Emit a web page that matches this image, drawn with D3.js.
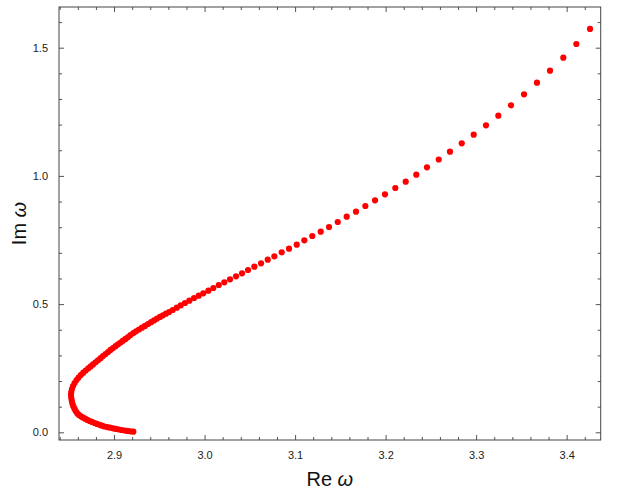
<!DOCTYPE html>
<html>
<head>
<meta charset="utf-8">
<script src="https://cdn.jsdelivr.net/npm/d3@7"></script>
<style>
  body { margin: 0; background: #fff; }
  text { font-family: "Liberation Sans", Arial, Helvetica, sans-serif; }
</style>
</head>
<body>
<svg id="chart"></svg>
<script>
const reOmega = [
  2.9213, 2.9181, 2.9149, 2.9117, 2.9085, 2.9055, 2.9022, 2.8989, 2.8956, 2.8925,
  2.8895, 2.8867, 2.8840, 2.8812, 2.8785, 2.8757, 2.8730, 2.8705, 2.8680, 2.8654,
  2.8630, 2.8609, 2.8591, 2.8576, 2.8563, 2.8550, 2.8540, 2.8533, 2.8527, 2.8525,
  2.8527, 2.8535, 2.8547, 2.8564, 2.8586, 2.8608, 2.8633, 2.8660, 2.8687, 2.8715,
  2.8742, 2.8768, 2.8796, 2.8823, 2.8851, 2.8878, 2.8906, 2.8934, 2.8961, 2.8989,
  2.9017, 2.9044, 2.9072, 2.9099, 2.9127, 2.9155, 2.9182, 2.9213, 2.9243, 2.9276,
  2.9309, 2.9342, 2.9376, 2.9409, 2.9442, 2.9475, 2.9508, 2.9541, 2.9574, 2.9608,
  2.9648, 2.9693, 2.9737, 2.9784, 2.9832, 2.9884, 2.9936, 2.9986, 3.0042, 3.0097,
  3.0157, 3.0218, 3.0281, 3.0348, 3.0414, 3.0480, 3.0550, 3.0624, 3.0698, 3.0771,
  3.0852, 3.0933, 3.1018, 3.1102, 3.1190, 3.1283, 3.1375, 3.1471, 3.1570, 3.1673,
  3.1776, 3.1883, 3.1993, 3.2107, 3.2222, 3.2339, 3.2457, 3.2587, 3.2711, 3.2841,
  3.2973, 3.3109, 3.3245, 3.3385, 3.3529, 3.3672, 3.3816, 3.3963, 3.4107, 3.4258
];
const imOmega = [
  0.0023, 0.0039, 0.0055, 0.0070, 0.0090, 0.0109, 0.0133, 0.0156, 0.0179, 0.0203,
  0.0226, 0.0257, 0.0293, 0.0328, 0.0363, 0.0406, 0.0441, 0.0484, 0.0530, 0.0581,
  0.0632, 0.0686, 0.0753, 0.0831, 0.0920, 0.1018, 0.1123, 0.1232, 0.1346, 0.1463,
  0.1572, 0.1689, 0.1806, 0.1923, 0.2040, 0.2137, 0.2235, 0.2325, 0.2410, 0.2492,
  0.2570, 0.2648, 0.2730, 0.2808, 0.2890, 0.2972, 0.3050, 0.3132, 0.3214, 0.3284,
  0.3358, 0.3432, 0.3502, 0.3573, 0.3643, 0.3713, 0.3795, 0.3873, 0.3939, 0.4009,
  0.4080, 0.4150, 0.4224, 0.4294, 0.4364, 0.4434, 0.4501, 0.4563, 0.4626, 0.4692,
  0.4770, 0.4860, 0.4953, 0.5043, 0.5133, 0.5238, 0.5328, 0.5421, 0.5523, 0.5628,
  0.5745, 0.5850, 0.5967, 0.6084, 0.6201, 0.6330, 0.6459, 0.6591, 0.6732, 0.6864,
  0.7020, 0.7161, 0.7317, 0.7488, 0.7656, 0.7824, 0.8007, 0.8202, 0.8409, 0.8604,
  0.8826, 0.9048, 0.9282, 0.9528, 0.9774, 1.0047, 1.0335, 1.0640, 1.0944, 1.1271,
  1.1607, 1.1973, 1.2348, 1.2754, 1.3183, 1.3635, 1.4103, 1.4610, 1.5144, 1.5730
];

// Axis ticks
const xTicks = [2.9, 3.0, 3.1, 3.2, 3.3, 3.4];
const xTickLabels = ["2.9", "3.0", "3.1", "3.2", "3.3", "3.4"];
const yTicks = [0, 0.5, 1.0, 1.5];
const yTickLabels = ["0.0", "0.5", "1.0", "1.5"];

const width = 642;
const height = 500;
const margin = { top: 7, right: 41.3, bottom: 60, left: 59 };
const innerW = width - margin.left - margin.right;
const innerH = height - margin.top - margin.bottom;

const svg = d3.select("#chart").attr("width", width).attr("height", height);

const x = d3.scaleLinear().domain([2.8392, 3.4376]).range([0, innerW]);
const y = d3.scaleLinear().domain([-0.030, 1.6587]).range([innerH, 0]);

const g = svg.append("g").attr("transform", `translate(${margin.left},${margin.top})`);

const xMinor = d3.range(2.84, 3.43, 0.02).filter(v => !xTicks.some(t => Math.abs(t - v) < 1e-6));
const yMinor = d3.range(0.1, 1.65, 0.1).filter(v => !yTicks.some(t => Math.abs(t - v) < 1e-6));

// draw inward ticks on all four sides
function ticks(axisFn, scale, values, size, transform, labels) {
  const a = axisFn(scale).tickValues(values).tickSizeInner(-size).tickSizeOuter(0);
  if (labels) a.tickFormat((d, i) => labels[i]).tickPadding(size === 5 ? 11 : 8);
  else a.tickFormat("");
  const ax = g.append("g").attr("transform", transform).call(a);
  ax.select(".domain").remove();
  ax.selectAll("line").attr("stroke", "#555");
  return ax;
}

ticks(d3.axisBottom, x, xMinor, 3, `translate(0,${innerH})`);
ticks(d3.axisTop, x, xMinor, 3, "translate(0,0)");
ticks(d3.axisLeft, y, yMinor, 3, "translate(0,0)");
ticks(d3.axisRight, y, yMinor, 3, `translate(${innerW},0)`);

const xb = ticks(d3.axisBottom, x, xTicks, 5, `translate(0,${innerH})`, xTickLabels);
ticks(d3.axisTop, x, xTicks, 5, "translate(0,0)");
const yl = ticks(d3.axisLeft, y, yTicks, 5, "translate(0,0)", yTickLabels);
ticks(d3.axisRight, y, yTicks, 5, `translate(${innerW},0)`);

xb.selectAll("text").attr("font-size", 11).attr("fill", "#222")
  .attr("font-family", "Liberation Sans, Arial, sans-serif");
yl.selectAll("text").attr("font-size", 11).attr("fill", "#222")
  .attr("font-family", "Liberation Sans, Arial, sans-serif");

// frame
g.append("rect")
  .attr("x", 0).attr("y", 0)
  .attr("width", innerW).attr("height", innerH)
  .attr("fill", "none").attr("stroke", "#444").attr("stroke-width", 1);

// points
const pts = reOmega.map((d, i) => ({ re: d, im: imOmega[i] }));
g.selectAll("circle.pt")
  .data(pts)
  .enter()
  .append("circle")
  .attr("class", "pt")
  .attr("cx", d => x(d.re))
  .attr("cy", d => y(d.im))
  .attr("r", 3.1)
  .attr("fill", "#ff0000");

// axis titles
svg.append("text")
  .attr("x", margin.left + innerW / 2)
  .attr("y", 486)
  .attr("text-anchor", "middle")
  .attr("font-size", 20)
  .attr("fill", "#111")
  .html('Re <tspan font-style="italic">ω</tspan>');

svg.append("text")
  .attr("transform", `translate(26,${margin.top + innerH / 2}) rotate(-90)`)
  .attr("text-anchor", "middle")
  .attr("font-size", 20)
  .attr("fill", "#111")
  .html('Im <tspan font-style="italic">ω</tspan>');
</script>
</body>
</html>
